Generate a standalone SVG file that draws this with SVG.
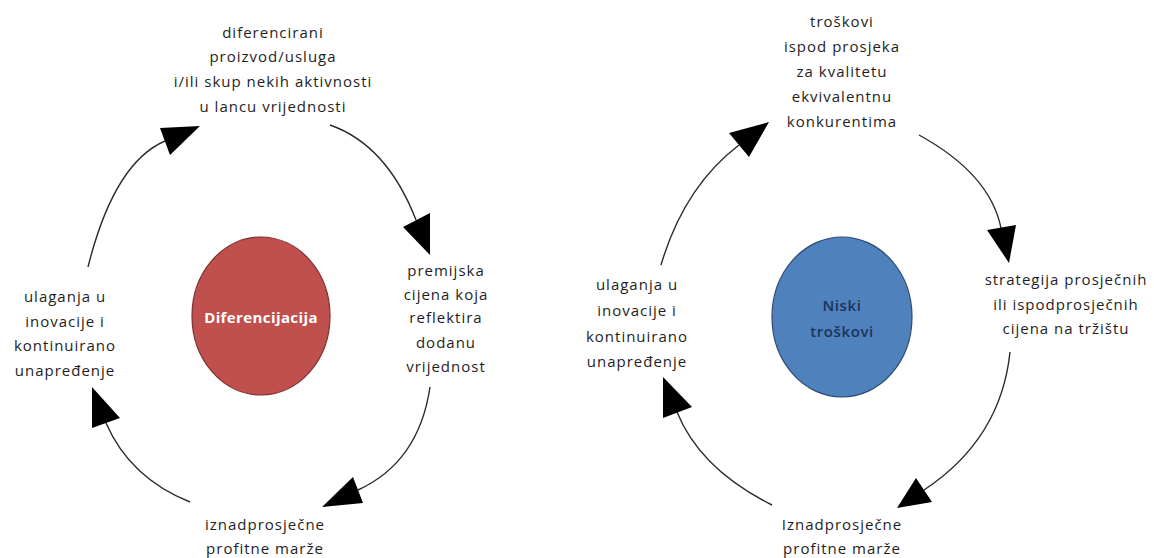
<svg xmlns="http://www.w3.org/2000/svg" width="1154" height="558" viewBox="0 0 1154 558">
<style>
.t{font-family:"Open Sans","Liberation Sans",sans-serif;font-size:15px;letter-spacing:1px;fill:#1e1e1e;text-anchor:middle}
.arc{fill:none;stroke:#2a2a2a;stroke-width:1.4}
.head{fill:#000}
.red{fill:#c0504d;stroke:#7a2f2d;stroke-width:1.2}
.blue{fill:#4f81bd;stroke:#2c4a70;stroke-width:1.2}
.wt{font-family:"Open Sans","Liberation Sans",sans-serif;font-size:15px;font-weight:bold;letter-spacing:0.4px;fill:#fff;text-anchor:middle}
.nt{font-family:"Open Sans","Liberation Sans",sans-serif;font-size:15px;font-weight:600;letter-spacing:0.6px;fill:#1b3459;text-anchor:middle}
</style>
<rect width="1154" height="558" fill="#fff"/>
<g id="connectors">
<path class="arc" d="M88,267 Q114,163 165,141"/>
<polygon class="head" points="200,126 160,128 170,155"/>
<path class="arc" d="M330,125 Q387,145 416,220"/>
<polygon class="head" points="430,255 403,227 430,213"/>
<path class="arc" d="M430,387 Q419,462 358,490"/>
<polygon class="head" points="322,507 353,477 363,503"/>
<path class="arc" d="M190,502 Q130,478 106,423"/>
<polygon class="head" points="92,387 92,428 120,418"/>
<path class="arc" d="M661,265 Q684,187 739,145"/>
<polygon class="head" points="769,122 729,133 749,157"/>
<path class="arc" d="M919,135 Q990,174 1001,228"/>
<polygon class="head" points="1009,263 987,230 1016,225"/>
<path class="arc" d="M1010,352 Q1001,439 924,490"/>
<polygon class="head" points="897,508 916,478 932,502"/>
<path class="arc" d="M772,505 Q700,469 677,412"/>
<polygon class="head" points="663,377 663,418 692,407"/>
</g>
<g id="diferencijacija">
<ellipse class="red" cx="261" cy="316" rx="69" ry="79"/>
<text class="wt" x="261" y="323">Diferencijacija</text>
</g>
<g id="l-top">
<text class="t" x="273" y="38">diferencirani</text>
<text class="t" x="273" y="62">proizvod/usluga</text>
<text class="t" x="273" y="87">i/ili skup nekih aktivnosti</text>
<text class="t" x="273" y="112">u lancu vrijednosti</text>
</g>
<g id="l-right">
<text class="t" x="446" y="276">premijska</text>
<text class="t" x="446" y="300">cijena koja</text>
<text class="t" x="446" y="323">reflektira</text>
<text class="t" x="446" y="348">dodanu</text>
<text class="t" x="446" y="372">vrijednost</text>
</g>
<g id="l-bottom">
<text class="t" x="265" y="530">iznadprosječne</text>
<text class="t" x="265" y="554">profitne marže</text>
</g>
<g id="l-left">
<text class="t" x="65" y="302">ulaganja u</text>
<text class="t" x="65" y="327">inovacije i</text>
<text class="t" x="65" y="351">kontinuirano</text>
<text class="t" x="65" y="376">unapređenje</text>
</g>
<g id="niski-troskovi">
<ellipse class="blue" cx="842" cy="317" rx="70" ry="80"/>
<text class="nt" x="842" y="311">Niski</text>
<text class="nt" x="842" y="337">troškovi</text>
</g>
<g id="r-top">
<text class="t" x="842" y="27">troškovi</text>
<text class="t" x="842" y="52">ispod prosjeka</text>
<text class="t" x="842" y="77">za kvalitetu</text>
<text class="t" x="842" y="102">ekvivalentnu</text>
<text class="t" x="842" y="127">konkurentima</text>
</g>
<g id="r-right">
<text class="t" x="1066" y="285">strategija prosječnih</text>
<text class="t" x="1066" y="310">ili ispodprosječnih</text>
<text class="t" x="1066" y="334">cijena na tržištu</text>
</g>
<g id="r-bottom">
<text class="t" x="842" y="530">Iznadprosječne</text>
<text class="t" x="842" y="554">profitne marže</text>
</g>
<g id="r-left">
<text class="t" x="637" y="290">ulaganja u</text>
<text class="t" x="637" y="316">inovacije i</text>
<text class="t" x="637" y="342">kontinuirano</text>
<text class="t" x="637" y="367">unapređenje</text>
</g>
</svg>
